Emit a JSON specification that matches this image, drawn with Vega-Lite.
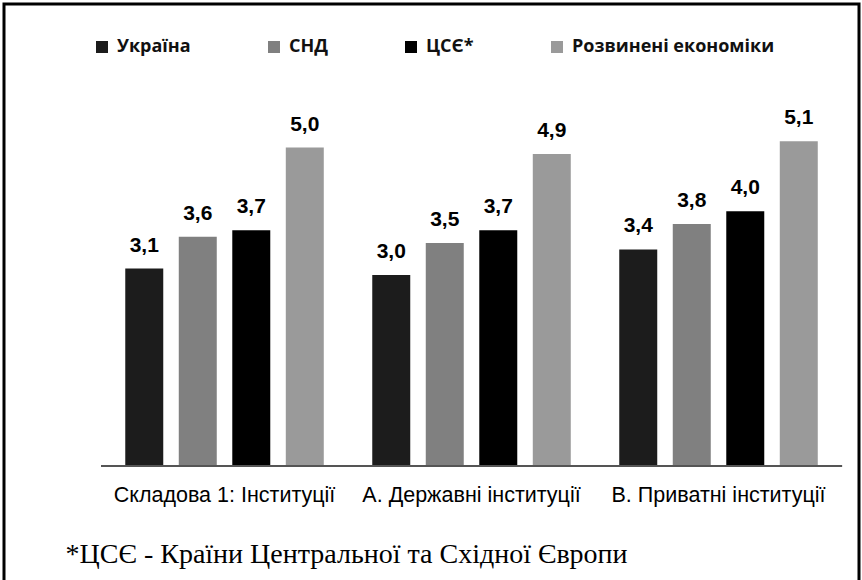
{
  "$schema": "https://vega.github.io/schema/vega-lite/v6.json",
  "width": 855,
  "height": 579,
  "autosize": {"type": "none"},
  "padding": {"left": 4, "top": 4, "right": 3, "bottom": -3},
  "background": "white",
  "config": {
    "view": {"stroke": "#000000", "strokeWidth": 3},
    "locale": {"number": {"decimal": ",", "thousands": " ", "grouping": [3], "currency": ["", ""]}},
    "font": "Liberation Sans"
  },
  "data": {
    "values": [
      {"category": "Складова 1: Інституції", "group": "Україна", "value": 3.1},
      {"category": "Складова 1: Інституції", "group": "СНД", "value": 3.6},
      {"category": "Складова 1: Інституції", "group": "ЦСЄ*", "value": 3.7},
      {"category": "Складова 1: Інституції", "group": "Розвинені економіки", "value": 5.0},
      {"category": "А. Державні інституції", "group": "Україна", "value": 3.0},
      {"category": "А. Державні інституції", "group": "СНД", "value": 3.5},
      {"category": "А. Державні інституції", "group": "ЦСЄ*", "value": 3.7},
      {"category": "А. Державні інституції", "group": "Розвинені економіки", "value": 4.9},
      {"category": "В. Приватні інституції", "group": "Україна", "value": 3.4},
      {"category": "В. Приватні інституції", "group": "СНД", "value": 3.8},
      {"category": "В. Приватні інституції", "group": "ЦСЄ*", "value": 4.0},
      {"category": "В. Приватні інституції", "group": "Розвинені економіки", "value": 5.1}
    ]
  },
  "layer": [
    {
      "mark": {"type": "bar"},
      "encoding": {
        "x": {
          "field": "category", "type": "nominal", "sort": null,
          "scale": {"paddingInner": 0, "paddingOuter": 0.2308, "align": 0.851},
          "axis": {
            "domain": false, "ticks": false, "grid": false,
            "labelFont": "Liberation Sans", "labelFontSize": 21.5, "labelColor": "#000000",
            "labelAngle": 0, "labelBaseline": "alphabetic", "labelPadding": 35, "labelLimit": 0,
            "offset": -117,
            "title": "*ЦСЄ - Країни Центральної та Східної Європи",
            "titleFont": "Liberation Serif", "titleFontSize": 28, "titleFontWeight": "normal",
            "titleColor": "#000000", "titleAnchor": "start", "titleAlign": "left",
            "titleX": 61, "titleY": 96, "titleBaseline": "alphabetic"
          }
        },
        "xOffset": {
          "field": "group", "type": "nominal",
          "scale": {"domain": ["Україна", "СНД", "ЦСЄ*", "Розвинені економіки"], "paddingInner": 0.29, "paddingOuter": 0.453}
        },
        "y": {
          "field": "value", "type": "quantitative", "stack": null,
          "scale": {"domain": [-1.837, 7.253], "nice": false, "zero": false},
          "axis": null
        },
        "color": {
          "field": "group", "type": "nominal",
          "scale": {"domain": ["Україна", "СНД", "ЦСЄ*", "Розвинені економіки"], "range": ["#1c1c1c", "#808080", "#000000", "#9a9a9a"]},
          "legend": {
            "orient": "none", "legendX": 89, "legendY": 34, "direction": "horizontal", "columns": 4,
            "title": null, "symbolType": "square", "symbolSize": 144, "symbolStrokeWidth": 0, "symbolOpacity": 1,
            "labelFont": "Open Sans", "labelFontSize": 18, "labelFontWeight": "bold", "labelColor": "#111111",
            "labelOffset": 6, "columnPadding": 74, "padding": 0, "labelLimit": 0
          }
        }
      }
    },
    {
      "mark": {"type": "text", "font": "Liberation Sans", "fontSize": 21, "fontWeight": "bold", "color": "#000000", "baseline": "alphabetic", "dy": -17},
      "encoding": {
        "x": {"field": "category", "type": "nominal", "sort": null},
        "xOffset": {"field": "group", "type": "nominal"},
        "y": {"field": "value", "type": "quantitative", "stack": null},
        "text": {"field": "value", "type": "quantitative", "format": ".1f"}
      }
    },
    {
      "mark": {"type": "rule", "color": "#555555", "strokeWidth": 2},
      "encoding": {
        "x": {"datum": "Складова 1: Інституції", "type": "nominal", "bandPosition": 0},
        "x2": {"datum": "В. Приватні інституції", "bandPosition": 1},
        "y": {"datum": 0, "type": "quantitative"}
      }
    }
  ]
}
